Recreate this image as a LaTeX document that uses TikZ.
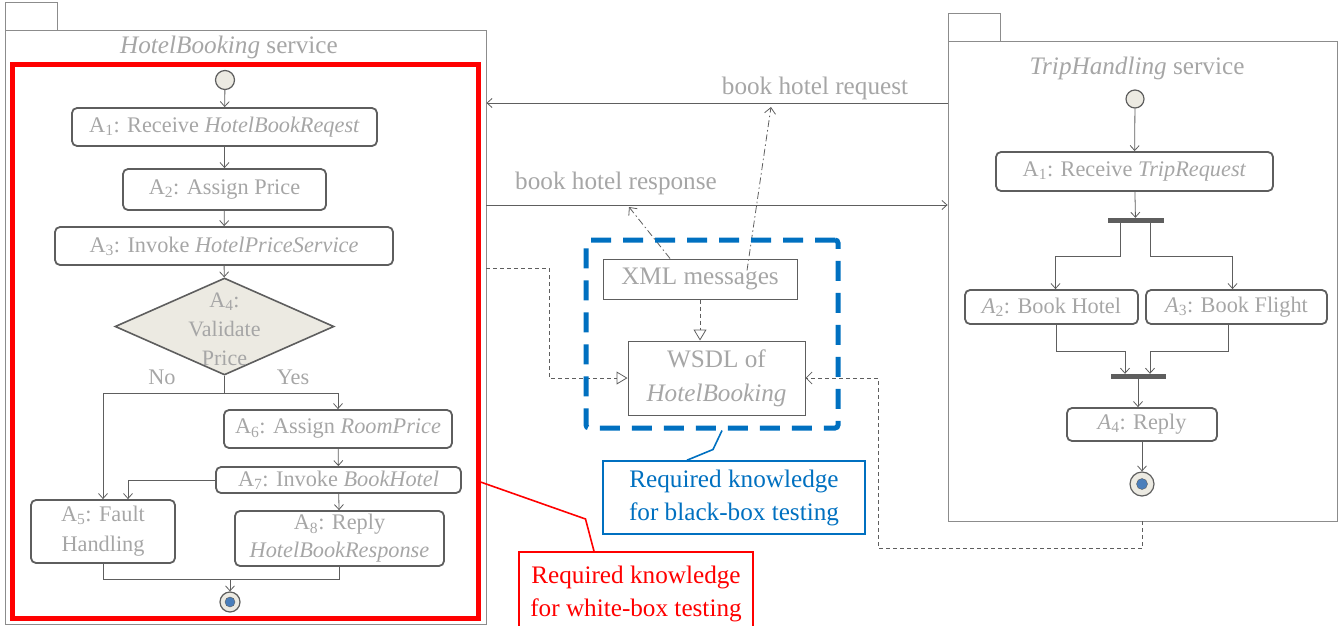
\documentclass[tikz,border=0pt]{standalone}
\usepackage{fontspec}
\setmainfont{Liberation Serif}
\usetikzlibrary{arrows.meta,shapes.geometric}
\definecolor{txt}{HTML}{A6A6A6}
\definecolor{ln}{HTML}{5E5E5E}
\definecolor{pk}{HTML}{8C8C8C}
\definecolor{beige}{HTML}{ECEAE2}
\definecolor{bblue}{HTML}{0070C0}
\definecolor{fblue}{HTML}{4A7EBB}
\begin{document}
\begin{tikzpicture}[x=1pt,y=-1pt,
  every node/.style={font=\fontsize{22.3}{28}\selectfont},
  act/.style={draw=ln, line width=1.8pt, rounded corners=5pt, text=txt, align=center, inner sep=0pt},
  box/.style={draw=ln, line width=1pt, text=txt, align=center, inner sep=0pt},
  pkg/.style={draw=pk, line width=0.9pt, inner sep=0pt},
  lbl/.style={text=txt, align=center, inner sep=0pt},
  big/.style={font=\fontsize{25.2}{30}\selectfont},
  flow/.style={draw=ln, line width=0.8pt, -{Straight Barb[length=5pt,width=9pt]}},
  conn/.style={draw=ln, line width=0.8pt},
  real/.style={draw=ln, line width=0.8pt, dash pattern=on 4pt off 3pt, -{Triangle[open,length=11pt,width=13pt]}},
  dep/.style={draw=ln, line width=0.8pt, dash pattern=on 4pt off 3pt, -{Straight Barb[length=6pt,width=12pt]}},
  trace/.style={draw=ln, line width=0.8pt, dash pattern=on 7pt off 3pt on 1.5pt off 3pt, -{Straight Barb[length=6pt,width=11pt]}},
  startnode/.style={circle, draw=ln, line width=1.2pt, fill=beige, inner sep=0pt},
  endnode/.style={circle, draw=ln, line width=1.2pt, fill=beige, inner sep=0pt},
  bar/.style={fill=ln, draw=ln, inner sep=0pt, minimum height=4pt},
  note/.style={line width=1.6pt, align=center, inner sep=0pt, font=\fontsize{25.2}{33}\selectfont}
]
\useasboundingbox (0,0) rectangle (1343,626);

% ---------------- packages ----------------
\node[pkg, minimum width=52pt, minimum height=28pt] (ltab) at (31,16) {};
\node[pkg, minimum width=481pt, minimum height=594pt] (lp) at (245.5,327) {};
\node[lbl, big] (ltitle) at (229,47) {\textit{HotelBooking} service};

\node[pkg, minimum width=52pt, minimum height=28pt] (rtab) at (974,27) {};
\node[pkg, minimum width=389pt, minimum height=480pt] (rp) at (1142.5,281) {};
\node[lbl, big] (rtitle) at (1137,68) {\textit{TripHandling} service};

% ---------------- HotelBooking activity ----------------
\node[draw=red, line width=5pt, minimum width=466pt, minimum height=553pt, inner sep=0pt] (wb) at (245,341.5) {};

\node[startnode, minimum size=19pt] (ini) at (225,80) {};
\node[act, minimum width=305pt, minimum height=38pt] (A1) at (224.5,127) {A\textsubscript{1}: Receive \textit{HotelBookReqest}};
\node[act, minimum width=203pt, minimum height=41pt] (A2) at (224.5,189.5) {A\textsubscript{2}: Assign Price};
\node[act, minimum width=338pt, minimum height=38pt] (A3) at (224,246) {A\textsubscript{3}: Invoke \textit{HotelPriceService}};
\node[diamond, draw=ln, line width=1.6pt, fill=beige, minimum width=219pt, minimum height=97pt, inner sep=0pt] (dec) at (224.5,326.5) {};
\node[lbl, font=\fontsize{22}{29}\selectfont] (dect) at (224.5,329) {A\textsubscript{4}:\\Validate\\Price};
\node[lbl] (no) at (162,377) {No};
\node[lbl] (yes) at (293,377) {Yes};
\node[act, minimum width=228pt, minimum height=38pt] (A6) at (338,429) {A\textsubscript{6}: Assign \textit{RoomPrice}};
\node[act, minimum width=245pt, minimum height=26pt] (A7) at (338.5,480) {A\textsubscript{7}: Invoke \textit{BookHotel}};
\node[act, minimum width=144pt, minimum height=63pt, font=\fontsize{22.3}{30}\selectfont] (A5) at (103,531.5) {A\textsubscript{5}: Fault\\Handling};
\node[act, minimum width=209pt, minimum height=55pt, font=\fontsize{22.3}{28}\selectfont] (A8) at (339.5,538.5) {A\textsubscript{8}: Reply\\\textit{HotelBookResponse}};
\node[endnode, minimum size=20pt] (fin) at (230,602) {};
\node[circle, fill=fblue, draw=ln, line width=0.4pt, minimum size=10pt, inner sep=0pt] (finin) at (fin) {};
\coordinate (m1) at (230,579);

\draw[flow] (ini) -- (A1);
\draw[flow] (A1) -- (A2);
\draw[flow] (A2) -- (A3);
\draw[flow] (A3) -- (dec);
\draw[flow] (dec.south) -- ++(0,18) -| (A5.north);
\draw[flow] (dec.south) -- ++(0,18) -| (A6.north);
\draw[flow] (A6) -- (A7);
\draw[flow] (A7) -- (A8);
\draw[flow] (A7.west) -| ([xshift=25pt]A5.north);
\draw[conn] (A5.south) |- (m1);
\draw[conn] (A8.south) |- (m1);
\draw[flow] (m1) -- (fin);

% ---------------- TripHandling activity ----------------
\node[startnode, minimum size=18pt] (ini2) at (1135,99) {};
\node[act, minimum width=277pt, minimum height=39pt] (rA1) at (1134.5,171.5) {A\textsubscript{1}: Receive \textit{TripRequest}};
\node[bar, minimum width=55pt] (fork) at (1135.5,220) {};
\node[act, minimum width=173pt, minimum height=34pt] (rA2) at (1051.5,307) {\textit{A}\textsubscript{2}: Book Hotel};
\node[act, minimum width=181pt, minimum height=34pt] (rA3) at (1236.5,307) {\textit{A}\textsubscript{3}: Book Flight};
\node[bar, minimum width=54pt] (join) at (1138,376) {};
\node[act, minimum width=150pt, minimum height=33pt] (rA4) at (1142,424.5) {\textit{A}\textsubscript{4}: Reply};
\node[endnode, minimum size=24pt] (fin2) at (1142,484) {};
\node[circle, fill=fblue, draw=ln, line width=0.4pt, minimum size=11pt, inner sep=0pt] (fin2in) at (fin2) {};

\draw[flow] (ini2) -- (rA1);
\draw[flow] (rA1) -- (fork);
\draw[flow] ([xshift=-15pt]fork.south) -- ++(0,34) -| ([xshift=4pt]rA2.north);
\draw[flow] ([xshift=15pt]fork.south) -- ++(0,34) -| ([xshift=-4pt]rA3.north);
\draw[flow] ([xshift=5pt]rA2.south) -- ++(0,26) -| ([xshift=-13pt]join.north);
\draw[flow] ([xshift=-8pt]rA3.south) -- ++(0,26) -| ([xshift=12pt]join.north);
\draw[flow] (join.south) -- (join.south |- rA4.north);
\draw[flow] (rA4) -- (fin2);

% ---------------- messages ----------------
\draw[flow] ([yshift=178pt]rp.west) -- ([yshift=224pt]lp.east);
\node[lbl, big] (req) at (815,88) {book hotel request};
\draw[flow] ([yshift=122pt]lp.east) -- ([yshift=76pt]rp.west);
\node[lbl, big] (resp) at (616,183) {book hotel response};

% ---------------- black-box knowledge ----------------
\node[box, big, minimum width=194pt, minimum height=40pt] (xml) at (700,279) {XML messages};
\node[box, minimum width=177pt, minimum height=74pt, font=\fontsize{25.2}{34}\selectfont] (wsdl) at (716.5,378) {WSDL of\\\textit{HotelBooking}};
\draw[real] (xml.south) -- (xml.south |- wsdl.north);
\draw[real] ([yshift=59pt]lp.east) -- ++(63,0) |- (wsdl.west);
\draw[dep] (rp.south) -- ++(0,27) -- ++(-264.5,0) |- (wsdl.east);

\coordinate (p1) at (629,207);
\coordinate (p2) at (771,107);
\draw[trace] ([xshift=-30pt]xml.north) -- (p1);
\draw[trace] ([xshift=47pt,yshift=-12pt]xml.north) -- (p2);

\node[draw=bblue, line width=5pt, dash pattern=on 20pt off 12pt, rounded corners=3pt, minimum width=252pt, minimum height=188pt, inner sep=0pt] (bk) at (712,334) {};

% ---------------- notes ----------------
\node[note, draw=bblue, text=bblue, minimum width=262pt, minimum height=73pt] (bnote) at (734,497.5) {Required knowledge\\for black-box testing};
\draw[bblue, line width=1.6pt] ([xshift=10pt]bk.south) -- ++(-9,19) -- ([xshift=-47pt]bnote.north);

\node[note, draw=red, text=red, minimum width=234pt, minimum height=84pt] (rnote) at (636,594) {Required knowledge\\for white-box testing};
\draw[red, line width=1.6pt] ([yshift=-140.5pt]wb.east) -- ++(105,37) -- ([xshift=-42pt]rnote.north);
\end{tikzpicture}
\end{document}
